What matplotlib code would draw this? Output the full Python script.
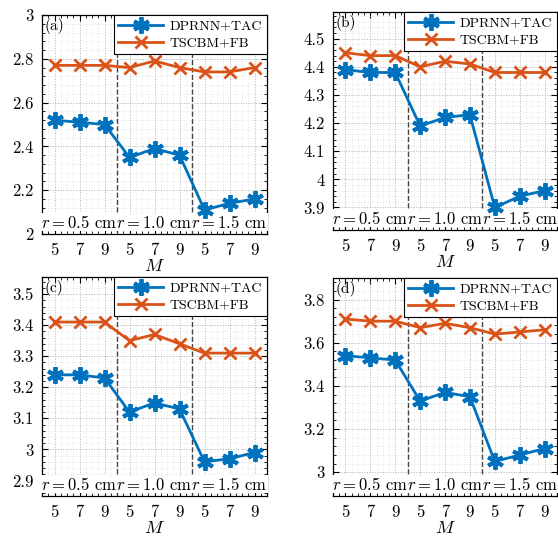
import numpy as np
import matplotlib
matplotlib.use("Agg")
import matplotlib.pyplot as plt
from matplotlib.ticker import AutoMinorLocator, MultipleLocator

plt.rcParams["font.family"] = "serif"
plt.rcParams["font.serif"] = ["cmr10"]
plt.rcParams["mathtext.fontset"] = "cm"
plt.rcParams["axes.formatter.use_mathtext"] = True

# datos
m_labels = ["5", "7", "9", "5", "7", "9", "5", "7", "9"]
radios = ["0.5", "1.0", "1.5"]
paneles = ["(a)", "(b)", "(c)", "(d)"]

dprnn_a = [2.52, 2.51, 2.50, 2.35, 2.39, 2.36, 2.11, 2.14, 2.16]
tscbm_a = [2.77, 2.77, 2.77, 2.76, 2.79, 2.76, 2.74, 2.74, 2.76]
dprnn_b = [4.39, 4.38, 4.38, 4.19, 4.22, 4.23, 3.90, 3.94, 3.96]
tscbm_b = [4.45, 4.44, 4.44, 4.40, 4.42, 4.41, 4.38, 4.38, 4.38]
dprnn_c = [3.24, 3.24, 3.23, 3.12, 3.15, 3.13, 2.96, 2.97, 2.99]
tscbm_c = [3.41, 3.41, 3.41, 3.35, 3.37, 3.34, 3.31, 3.31, 3.31]
dprnn_d = [3.54, 3.53, 3.52, 3.33, 3.37, 3.35, 3.05, 3.08, 3.11]
tscbm_d = [3.71, 3.70, 3.70, 3.67, 3.69, 3.67, 3.64, 3.65, 3.66]

series = [(dprnn_a, tscbm_a), (dprnn_b, tscbm_b), (dprnn_c, tscbm_c), (dprnn_d, tscbm_d)]
ylims = [(2.0, 3.0), (3.82, 4.595), (2.85, 3.555), (2.89, 3.9)]
ysteps = [0.2, 0.1, 0.1, 0.2]

W, H = 558, 536
# posiciones en pixeles: izq, der, arriba, abajo
cajas = [(42, 267, 15, 234), (333, 557, 12, 230), (42, 267, 277, 496), (333, 557, 278, 496)]

azul = "#0072BD"
naranja = "#D95319"

fig = plt.figure(figsize=(W / 100, H / 100), dpi=100)
x = np.arange(1, 10)

for k in range(4):
    l, r, t, b = cajas[k]
    ax = fig.add_axes([l / W, (H - b) / H, (r - l) / W, (b - t) / H])
    dp, ts = series[k]
    ax.plot(x, dp, color=azul, lw=2, marker=(6, 2, 0), ms=12, mew=2.8,
            label="DPRNN+TAC", zorder=6)
    ax.plot(x, ts, color=naranja, lw=2, marker="x", ms=8, mew=2,
            label="TSCBM+FB", zorder=6)

    ax.set_xlim(0.5, 9.5)
    ax.set_ylim(*ylims[k])
    ax.set_xticks(x)
    ax.set_xticklabels(m_labels)
    ax.yaxis.set_major_locator(MultipleLocator(ysteps[k]))
    ax.yaxis.set_major_formatter(plt.FuncFormatter(lambda v, p: f"{v:g}"))
    ax.xaxis.set_minor_locator(AutoMinorLocator(4))
    ax.yaxis.set_minor_locator(AutoMinorLocator(5))
    ax.tick_params(which="both", direction="in", top=True, right=True,
                   labelsize=12, pad=6)
    ax.tick_params(which="major", length=4)
    ax.tick_params(which="minor", length=2)
    ax.grid(True, which="major", ls=":", color="#b0b0b0", lw=0.7)
    ax.grid(True, which="minor", ls=":", color="#dcdcdc", lw=0.5)

    ax.axvline(3.5, color="#444444", ls="--", lw=1, zorder=3)
    ax.axvline(6.5, color="#444444", ls="--", lw=1, zorder=3)

    for j, rad in enumerate(radios):
        ax.text(2 + 3 * j, 0.015, rf"$r = {rad}$ cm", transform=ax.get_xaxis_transform(),
                ha="center", va="bottom", fontsize=12, zorder=5,
                bbox=dict(facecolor="white", edgecolor="none", pad=0.5))

    ax.text(0.01, 0.985, paneles[k], transform=ax.transAxes, ha="left", va="top",
            fontsize=11, zorder=6)

    leg = ax.legend(loc="upper right", fontsize=10, fancybox=False, edgecolor="black",
                    framealpha=1, borderaxespad=0.0, handlelength=3.2,
                    borderpad=0.35, labelspacing=0.3, handletextpad=0.5)
    leg.get_frame().set_linewidth(0.8)
    leg.set_zorder(7)

    ax.set_xlabel("$M$", fontsize=13, labelpad=0)
    for s in ax.spines.values():
        s.set_linewidth(0.9)

fig.savefig("out.png", dpi=100)
